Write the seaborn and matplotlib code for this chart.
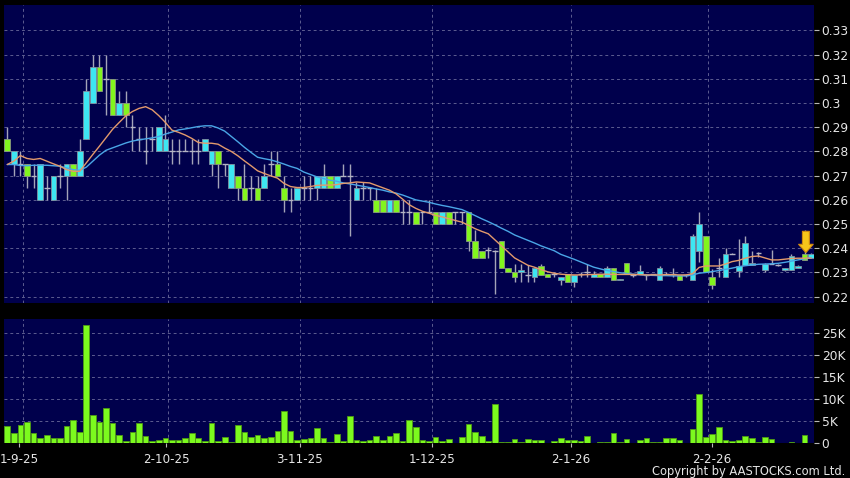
import numpy as np
import pandas as pd
import matplotlib
matplotlib.use("Agg")
import matplotlib.pyplot as plt
import seaborn as sns

# ---------------- data ----------------
opens = [0.285, 0.275, 0.275, 0.275, 0.270, 0.260, 0.265, 0.260, 0.270, 0.270,
         0.275, 0.270, 0.285, 0.300, 0.315, 0.310, 0.310, 0.295, 0.300, 0.290,
         0.285, 0.280, 0.285, 0.280, 0.280, 0.280, 0.280, 0.280, 0.280, 0.280,
         0.280, 0.275, 0.280, 0.275, 0.265, 0.270, 0.265, 0.265, 0.265, 0.265,
         0.275, 0.275, 0.265, 0.260, 0.260, 0.265, 0.265, 0.265, 0.265, 0.270,
         0.265, 0.270, 0.270, 0.260, 0.265, 0.265, 0.260, 0.260, 0.255, 0.260,
         0.255, 0.255, 0.255, 0.255, 0.255, 0.255, 0.250, 0.255, 0.255, 0.255,
         0.255, 0.243, 0.239, 0.2395, 0.239, 0.243, 0.232, 0.230, 0.230, 0.229,
         0.228, 0.2325, 0.2295, 0.2295, 0.227, 0.2295, 0.226, 0.2295, 0.230, 0.228,
         0.2295, 0.228, 0.232, 0.227, 0.234, 0.229, 0.2295, 0.229, 0.2295, 0.227,
         0.2295, 0.2295, 0.229, 0.229, 0.227, 0.239, 0.245, 0.228, 0.232, 0.228,
         0.2375, 0.2305, 0.233, 0.233, 0.238, 0.231, 0.2335, 0.233, 0.231, 0.231,
         0.232, 0.2375, 0.236]
highs = [0.290, 0.280, 0.280, 0.275, 0.275, 0.275, 0.270, 0.270, 0.275, 0.275,
         0.275, 0.285, 0.310, 0.320, 0.320, 0.320, 0.310, 0.305, 0.305, 0.295,
         0.290, 0.290, 0.290, 0.290, 0.295, 0.285, 0.285, 0.285, 0.285, 0.285,
         0.285, 0.280, 0.280, 0.275, 0.275, 0.270, 0.275, 0.270, 0.270, 0.275,
         0.280, 0.280, 0.270, 0.265, 0.265, 0.270, 0.270, 0.270, 0.275, 0.270,
         0.270, 0.275, 0.275, 0.2675, 0.2675, 0.265, 0.265, 0.260, 0.260, 0.260,
         0.260, 0.260, 0.255, 0.255, 0.260, 0.255, 0.255, 0.255, 0.255, 0.255,
         0.255, 0.2475, 0.239, 0.2405, 0.2395, 0.243, 0.232, 0.2335, 0.2335, 0.233,
         0.232, 0.2335, 0.2295, 0.230, 0.228, 0.2295, 0.229, 0.230, 0.2335, 0.2305,
         0.2295, 0.2325, 0.232, 0.2275, 0.234, 0.2295, 0.233, 0.2295, 0.2295, 0.2325,
         0.230, 0.232, 0.229, 0.229, 0.246, 0.255, 0.245, 0.2315, 0.236, 0.240,
         0.238, 0.244, 0.245, 0.239, 0.2385, 0.234, 0.2395, 0.2335, 0.232, 0.2375,
         0.233, 0.2475, 0.238]
lows = [0.280, 0.270, 0.270, 0.265, 0.265, 0.260, 0.260, 0.260, 0.265, 0.260,
        0.270, 0.270, 0.285, 0.300, 0.305, 0.295, 0.295, 0.295, 0.290, 0.280,
        0.280, 0.275, 0.280, 0.280, 0.280, 0.275, 0.275, 0.280, 0.275, 0.275,
        0.280, 0.270, 0.265, 0.270, 0.265, 0.260, 0.260, 0.260, 0.260, 0.265,
        0.270, 0.270, 0.255, 0.255, 0.260, 0.260, 0.260, 0.260, 0.265, 0.265,
        0.265, 0.270, 0.245, 0.260, 0.260, 0.260, 0.255, 0.255, 0.255, 0.255,
        0.250, 0.250, 0.250, 0.250, 0.255, 0.250, 0.250, 0.250, 0.250, 0.250,
        0.239, 0.236, 0.236, 0.236, 0.221, 0.232, 0.230, 0.226, 0.226, 0.226,
        0.226, 0.229, 0.228, 0.228, 0.225, 0.226, 0.224, 0.228, 0.228, 0.228,
        0.228, 0.228, 0.227, 0.227, 0.2295, 0.228, 0.2295, 0.227, 0.229, 0.227,
        0.229, 0.228, 0.227, 0.228, 0.227, 0.2345, 0.230, 0.223, 0.228, 0.228,
        0.2375, 0.228, 0.233, 0.233, 0.2365, 0.230, 0.2335, 0.2325, 0.2305, 0.231,
        0.232, 0.235, 0.236]
closes = [0.280, 0.280, 0.275, 0.270, 0.270, 0.275, 0.265, 0.270, 0.270, 0.275,
          0.270, 0.280, 0.305, 0.315, 0.305, 0.310, 0.295, 0.300, 0.295, 0.290,
          0.285, 0.280, 0.285, 0.290, 0.285, 0.280, 0.280, 0.280, 0.280, 0.280,
          0.285, 0.280, 0.275, 0.275, 0.275, 0.265, 0.260, 0.265, 0.260, 0.270,
          0.275, 0.270, 0.260, 0.260, 0.265, 0.265, 0.265, 0.270, 0.270, 0.265,
          0.270, 0.270, 0.270, 0.265, 0.265, 0.265, 0.255, 0.255, 0.260, 0.255,
          0.255, 0.255, 0.250, 0.255, 0.255, 0.250, 0.255, 0.250, 0.255, 0.255,
          0.243, 0.236, 0.236, 0.2395, 0.239, 0.232, 0.230, 0.228, 0.231, 0.229,
          0.232, 0.229, 0.228, 0.2295, 0.228, 0.226, 0.229, 0.2295, 0.230, 0.2295,
          0.228, 0.232, 0.227, 0.2275, 0.2295, 0.229, 0.2305, 0.229, 0.2295, 0.232,
          0.2295, 0.2295, 0.227, 0.229, 0.245, 0.250, 0.230, 0.225, 0.232, 0.2375,
          0.2375, 0.2325, 0.242, 0.234, 0.238, 0.2335, 0.2335, 0.233, 0.232, 0.237,
          0.2327, 0.235, 0.2375]
volume_k = [4.0, 2.3, 4.1, 4.9, 2.3, 1.2, 1.9, 1.2, 1.2, 4.0,
            5.2, 2.6, 26.7, 6.4, 4.9, 8.0, 4.5, 1.9, 0.6, 2.6,
            4.6, 1.7, 0.6, 0.8, 1.1, 0.8, 0.7, 1.1, 2.3, 1.2,
            0.5, 4.5, 0.5, 1.4, 0.2, 4.1, 2.6, 1.5, 1.9, 1.1,
            1.4, 2.7, 7.3, 2.7, 0.8, 0.9, 1.1, 3.5, 1.2, 0.3,
            2.2, 0.5, 6.2, 0.8, 0.5, 0.8, 1.6, 0.8, 1.7, 2.3,
            0.5, 5.2, 3.7, 0.7, 0.6, 1.4, 0.5, 1.0, 0.1, 1.5,
            4.3, 2.6, 1.7, 0.5, 9.0, 0.3, 0.3, 0.9, 0.4, 0.9,
            0.8, 0.8, 0.1, 0.5, 1.1, 0.7, 0.8, 0.5, 1.7, 0.1,
            0.2, 0.2, 2.3, 0.3, 1.0, 0.1, 0.8, 1.2, 0.4, 0.4,
            1.1, 1.1, 0.8, 0.1, 3.2, 11.2, 1.4, 2.0, 3.7, 0.8,
            0.5, 0.8, 1.7, 1.1, 0.4, 1.5, 0.9, 0.05, 0.05, 0.3,
            0.05, 1.8, 0.1]
ma_short = [0.2746, 0.2760, 0.2783, 0.2771, 0.2767, 0.2771, 0.2760, 0.2749, 0.2739, 0.2725,
            0.2718, 0.2718, 0.2753, 0.2788, 0.2822, 0.2857, 0.2892, 0.2920, 0.2947, 0.2965,
            0.2978, 0.2985, 0.2972, 0.2948, 0.2920, 0.2888, 0.2879, 0.2868, 0.2854, 0.2837,
            0.2834, 0.2834, 0.2830, 0.2814, 0.2800, 0.2782, 0.2761, 0.2741, 0.2720, 0.2709,
            0.2699, 0.2690, 0.2668, 0.2655, 0.2651, 0.2651, 0.2655, 0.2660, 0.2661, 0.2661,
            0.2663, 0.2668, 0.2670, 0.2674, 0.2672, 0.2670, 0.2660, 0.2650, 0.2640, 0.2625,
            0.2603, 0.2580, 0.2565, 0.2553, 0.2545, 0.2536, 0.2530, 0.2522, 0.2515, 0.2508,
            0.2495, 0.2481, 0.2470, 0.2460, 0.2435, 0.2410, 0.2385, 0.2360, 0.2345, 0.2330,
            0.2322, 0.2312, 0.2303, 0.2297, 0.2293, 0.2291, 0.2290, 0.2290, 0.2291, 0.2292,
            0.2293, 0.2293, 0.2292, 0.2292, 0.2292, 0.2292, 0.2291, 0.2290, 0.2290, 0.2290,
            0.2291, 0.2291, 0.2290, 0.2290, 0.2295, 0.2321, 0.2327, 0.2327, 0.2327, 0.2335,
            0.2345, 0.2350, 0.2359, 0.2366, 0.2368, 0.2360, 0.2352, 0.2352, 0.2355, 0.2358,
            0.2359, 0.2359, 0.2360]
ma_long = [0.2746, 0.2746, 0.2742, 0.2741, 0.2743, 0.2743, 0.2743, 0.2741, 0.2739, 0.2732,
           0.2725, 0.2722, 0.2735, 0.2760, 0.2785, 0.2805, 0.2815, 0.2825, 0.2835, 0.2843,
           0.2848, 0.2852, 0.2856, 0.2862, 0.2872, 0.2880, 0.2889, 0.2893, 0.2898, 0.2903,
           0.2906, 0.2906, 0.2897, 0.2884, 0.2862, 0.2840, 0.2817, 0.2796, 0.2776, 0.2770,
           0.2765, 0.2757, 0.2748, 0.2738, 0.2730, 0.2715, 0.2705, 0.2695, 0.2688, 0.2681,
           0.2677, 0.2670, 0.2666, 0.2661, 0.2656, 0.2651, 0.2645, 0.2640, 0.2633, 0.2628,
           0.2620, 0.2610, 0.2600, 0.2595, 0.2590, 0.2583, 0.2577, 0.2572, 0.2566, 0.2560,
           0.2548, 0.2535, 0.2522, 0.2510, 0.2497, 0.2483, 0.2470, 0.2455, 0.2444, 0.2433,
           0.2422, 0.2410, 0.2400, 0.2390, 0.2375, 0.2365, 0.2355, 0.2344, 0.2333, 0.2322,
           0.2315, 0.2308, 0.2304, 0.2299, 0.2296, 0.2293, 0.2291, 0.2289, 0.2288, 0.2287,
           0.2287, 0.2286, 0.2286, 0.2286, 0.2290, 0.2297, 0.2300, 0.2304, 0.2308, 0.2313,
           0.2318, 0.2324, 0.2328, 0.2331, 0.2334, 0.2335, 0.2336, 0.2338, 0.2342, 0.2347,
           0.2352, 0.2357, 0.2360]
date_labels = ["1-9-25", "2-10-25", "3-11-25", "1-12-25", "2-1-26", "2-2-26"]
price_ticks = [0.22, 0.23, 0.24, 0.25, 0.26, 0.27, 0.28, 0.29, 0.30, 0.31, 0.32, 0.33]
price_tick_labels = ["0.22", "0.23", "0.24", "0.25", "0.26", "0.27", "0.28", "0.29",
                     "0.3", "0.31", "0.32", "0.33"]
vol_ticks = [0, 5, 10, 15, 20, 25]
vol_tick_labels = ["0", "5K", "10K", "15K", "20K", "25K"]

# ---------------- layout / style ----------------
label_pos = [1.84, 24.14, 44.4, 64.5, 85.5, 106.9]   # x positions (bar index units)
grid_pos = [2.44, 24.45, 44.48, 64.5, 85.5, 106.4]
arrow_x = 121.2

NAVY = "#00004C"
GRID = "#5C5C90"
TXT = "#E6E6E6"
CYAN = "#3EE6F2"
GREEN = "#82F51E"
VGREEN = "#7CFA1E"

sns.set_theme(style="dark", rc={"axes.facecolor": NAVY, "figure.facecolor": "black"})
plt.rcParams["font.family"] = ["DejaVu Sans"]

W, H = 850, 478
fig = plt.figure(figsize=(W / 100, H / 100), dpi=100, facecolor="black")
axp = fig.add_axes([4 / W, 1 - 303 / H, 810 / W, 298 / H])
axv = fig.add_axes([4 / W, 1 - 443.3 / H, 810 / W, 124.3 / H])

df = pd.DataFrame({"idx": np.arange(len(closes)), "open": opens, "high": highs,
                   "low": lows, "close": closes, "vol": volume_k,
                   "ma_s": ma_short, "ma_l": ma_long})

# gridlines
for ax in (axp, axv):
    ax.set_facecolor(NAVY)
    for gx in grid_pos:
        ax.axvline(gx, color=GRID, lw=0.7, ls=(0, (3, 3)), zorder=0.5)
    for s in ax.spines.values():
        s.set_visible(False)
for py in price_ticks:
    axp.axhline(py, color=GRID, lw=0.7, ls=(0, (3, 3)), zorder=0.5)
for vy in vol_ticks[1:]:
    axv.axhline(vy, color=GRID, lw=0.7, ls=(0, (3, 3)), zorder=0.5)

# candles
bw = 0.86
axp.vlines(df["idx"], df["low"], df["high"], color="#A4A4B8", lw=1.0, zorder=2)
up = df[df["close"] > df["open"]]
dn = df[df["close"] < df["open"]]
dj = df[df["close"] == df["open"]]
axp.bar(up["idx"], up["close"] - up["open"], bottom=up["open"], width=bw,
        color=CYAN, edgecolor="#8090A0", linewidth=0.6, zorder=3)
axp.bar(dn["idx"], dn["open"] - dn["close"], bottom=dn["close"], width=bw,
        color=GREEN, edgecolor="#8A9A80", linewidth=0.6, zorder=3)
axp.hlines(dj["open"], dj["idx"] - bw / 2, dj["idx"] + bw / 2, color="#B4B4C4",
           lw=1.0, zorder=3)

# moving averages
sns.lineplot(data=df, x="idx", y="ma_l", ax=axp, color="#4AA6E6", lw=1.0, zorder=4)
sns.lineplot(data=df, x="idx", y="ma_s", ax=axp, color="#E39A6C", lw=1.0, zorder=5)

# arrow marker on last bars
axp.annotate("", xy=(arrow_x, 0.2382), xytext=(arrow_x, 0.2470),
             arrowprops=dict(arrowstyle="simple,head_length=0.6,head_width=1.05,tail_width=0.5",
                             fc="#F7C51A", ec="#D08A10", lw=0.8, shrinkA=0, shrinkB=0,
                             mutation_scale=10), zorder=6)

# volume
sns.barplot(data=df, x="idx", y="vol", ax=axv, native_scale=True, color=VGREEN,
            edgecolor="#4E9A14", linewidth=0.6, width=bw, saturation=1,
            errorbar=None, zorder=3)

xlim = (-0.49, 122.43)
axp.set_xlim(*xlim)
axv.set_xlim(*xlim)
axp.set_ylim(0.2174, 0.3405)
axv.set_ylim(0, 28.12)

for ax in (axp, axv):
    ax.set_xlabel("")
    ax.set_ylabel("")
    ax.yaxis.tick_right()
    ax.grid(False)
    ax.tick_params(axis="y", colors="#B8B8B8", labelcolor=TXT, labelsize=8.8,
                   length=3.5, width=0.8, pad=2, direction="out", left=False, right=True)

axp.set_yticks(price_ticks, price_tick_labels)
axp.set_xticks([])
axv.set_yticks(vol_ticks, vol_tick_labels)
axv.set_xticks(label_pos, date_labels)
axv.tick_params(axis="x", colors="#B8B8B8", labelcolor=TXT, labelsize=8.6,
                length=3, width=0.8, pad=4, direction="out", bottom=True)

fig.text(845 / W, 1 - 471.5 / H, "Copyright by AASTOCKS.com Ltd.", ha="right",
         va="center", color=TXT, fontsize=8.3)

fig.savefig("out.png", dpi=100, facecolor="black")
